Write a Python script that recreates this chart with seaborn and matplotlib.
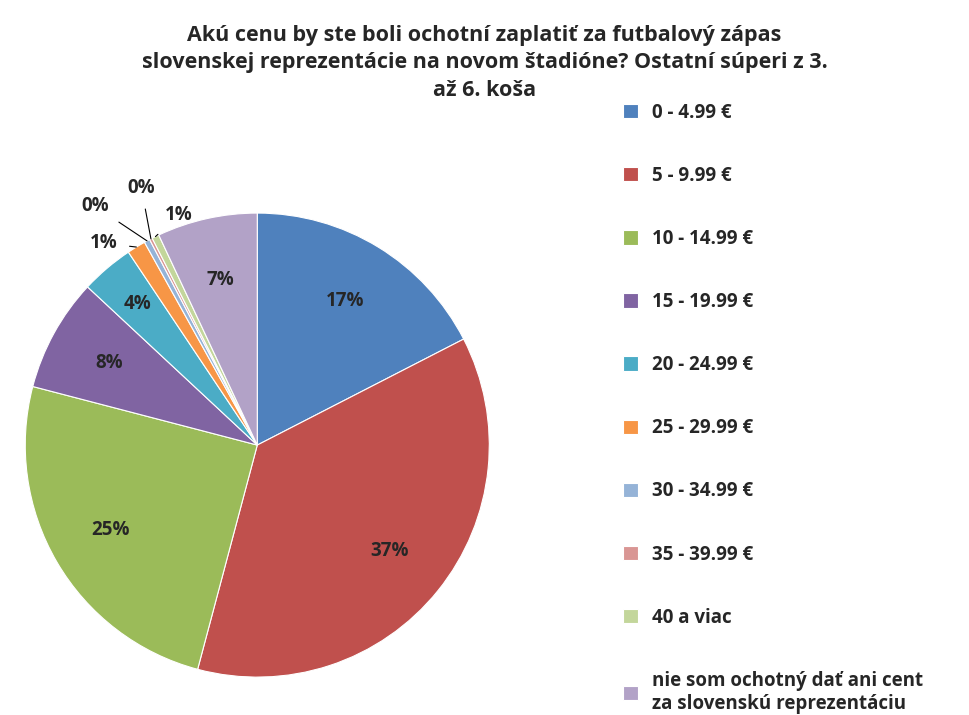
import matplotlib
matplotlib.use("Agg")
import matplotlib.pyplot as plt
import seaborn as sns
import numpy as np

sns.set_theme(style="white")
plt.rcParams["font.family"] = "Open Sans"

categories = ["0 - 4.99 €", "5 - 9.99 €", "10 - 14.99 €", "15 - 19.99 €", "20 - 24.99 €",
              "25 - 29.99 €", "30 - 34.99 €", "35 - 39.99 €", "40 a viac",
              "nie som ochotný dať ani cent\nza slovenskú reprezentáciu"]
values = [17.5, 36.8, 25.0, 7.9, 3.7, 1.3, 0.4, 0.2, 0.5, 7.0]
labels = ["17%", "37%", "25%", "8%", "4%", "1%", "0%", "0%", "1%", "7%"]
colors = ["#4F81BD", "#C0504D", "#9BBB59", "#8064A2", "#4BACC6", "#F79646",
          "#95B3D7", "#D99694", "#C3D69B", "#B2A2C7"]

fig = plt.figure(figsize=(9.69, 7.15), dpi=100)
ax = fig.add_axes([0.026, 0.053, 0.479, 0.649])
wedges, _ = ax.pie(values, colors=colors, startangle=90, counterclock=False,
                   wedgeprops=dict(edgecolor="white", linewidth=0.8))
ax.set_xlim(-1, 1); ax.set_ylim(-1, 1); ax.set_aspect("equal")

outside = {5: (-0.66, 0.87), 6: (-0.70, 1.03), 7: (-0.50, 1.11), 8: (-0.34, 0.99)}
for i, (w, lab) in enumerate(zip(wedges, labels)):
    ang = np.deg2rad((w.theta1 + w.theta2) / 2)
    if i in outside:
        tx, ty = outside[i]
        ex, ey = np.cos(ang), np.sin(ang)
        ax.annotate(lab, xy=(ex, ey), xytext=(tx, ty), ha="center", va="center",
                    fontsize=13.5, fontweight="bold",
                    arrowprops=dict(arrowstyle="-", color="black", lw=0.8,
                                    shrinkA=6, shrinkB=0))
    else:
        r = 0.73 if i != 4 else 0.8
        ax.text(r * np.cos(ang), r * np.sin(ang), lab, ha="center", va="center",
                fontsize=13.5, fontweight="bold")

fig.text(0.5, 0.965, "Akú cenu by ste boli ochotní zaplatiť za futbalový zápas\n"
         "slovenskej reprezentácie na novom štadióne? Ostatní súperi z 3.\naž 6. koša",
         ha="center", va="top", fontsize=15.5, fontweight="bold", linespacing=1.4)

leg = fig.legend(wedges, categories, loc="upper left", bbox_to_anchor=(0.625, 0.88),
                 frameon=False, fontsize=13.5, labelspacing=2.3, handlelength=0.8,
                 handleheight=0.8, handletextpad=0.8)
for t in leg.get_texts():
    t.set_fontweight("bold")

fig.savefig("out.png", dpi=100)
